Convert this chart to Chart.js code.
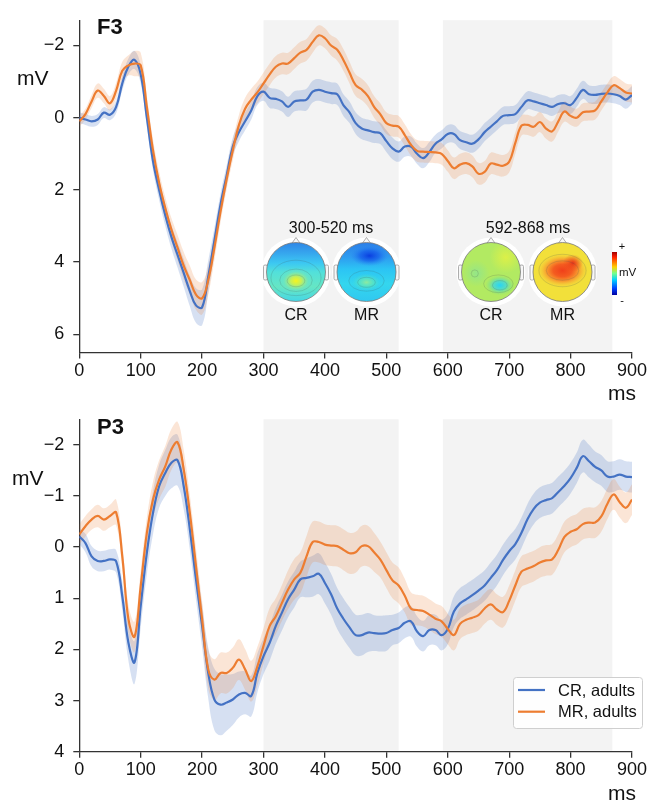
<!DOCTYPE html>
<html>
<head>
<meta charset="utf-8">
<script src="https://cdn.jsdelivr.net/npm/chart.js@4.4.0/dist/chart.umd.min.js"></script>
<style>
  html, body { margin: 0; padding: 0; background: #fff; }
  #wrap { position: relative; width: 648px; height: 803px; }
  canvas { position: absolute; left: 0; }
</style>
</head>
<body>
<div id="wrap">
  <canvas id="f3Chart" width="648" height="400" style="top:0;width:648px;height:400px"></canvas>
  <canvas id="p3Chart" width="648" height="403" style="top:400px;width:648px;height:403px"></canvas>
</div>
<script>
// time points (ms)
const times = [0,10,20,30,40,50,60,70,80,90,100,110,120,130,140,150,160,170,180,190,
  200,210,220,230,240,250,260,270,280,290,300,310,320,330,340,350,360,370,380,390,
  400,410,420,430,440,450,460,470,480,490,500,510,520,530,540,550,560,570,580,590,
  600,610,620,630,640,650,660,670,680,690,700,710,720,730,740,750,760,770,780,790,
  800,810,820,830,840,850,860,870,880,890,900];
const xTicks = [0, 100, 200, 300, 400, 500, 600, 700, 800, 900];
const yTicksF3 = [-2, 0, 2, 4, 6];
const yTicksP3 = [-2, -1, 0, 1, 2, 3, 4];
const windows = [[300, 520], [592, 868]];
const windowLabels = ['300-520 ms', '592-868 ms'];
const seriesNames = ['CR, adults', 'MR, adults'];
const mapLabels = ['CR', 'MR'];

// F3, mean amplitude (mV)
const f3CR = [0.0,0.05,0.1,0.05,-0.14,-0.08,-0.3,-0.95,-1.42,-1.6,
  -1.2,0.0,1.2,2.0,2.7,3.3,3.8,4.3,4.8,5.2,
  5.25,4.4,3.4,2.4,1.6,0.8,0.4,0.1,-0.2,-0.6,
  -0.72,-0.55,-0.52,-0.45,-0.3,-0.45,-0.48,-0.5,-0.72,-0.77,
  -0.72,-0.68,-0.65,-0.35,-0.15,0.15,0.3,0.35,0.4,0.43,
  0.65,0.85,0.94,0.8,0.8,1.0,1.12,0.95,0.72,0.6,
  0.45,0.45,0.62,0.68,0.72,0.6,0.4,0.25,0.1,-0.05,
  -0.07,-0.1,-0.3,-0.48,-0.45,-0.4,-0.35,-0.3,-0.38,-0.4,
  -0.35,-0.55,-0.77,-0.65,-0.63,-0.66,-0.67,-0.65,-0.6,-0.5,
  -0.63];
const f3MR = [0.1,-0.1,-0.45,-0.75,-0.6,-0.4,-0.75,-1.3,-1.45,-1.5,
  -1.45,-0.3,0.9,1.8,2.5,3.1,3.6,4.1,4.5,4.9,
  5.0,4.5,3.6,2.6,1.7,0.9,0.2,-0.25,-0.5,-0.7,
  -0.95,-1.2,-1.41,-1.5,-1.5,-1.65,-1.8,-1.88,-2.1,-2.28,
  -2.2,-2.0,-1.88,-1.6,-1.25,-0.9,-0.78,-0.6,-0.3,-0.1,
  0.15,0.22,0.25,0.48,0.75,0.92,0.94,0.95,0.96,1.0,
  1.2,1.4,1.3,1.26,1.35,1.55,1.5,1.27,1.3,1.33,
  1.22,0.7,0.22,0.2,0.25,0.12,0.3,0.38,0.1,-0.17,
  -0.05,0.0,-0.15,-0.17,-0.2,-0.45,-0.7,-0.9,-0.82,-0.7,
  -0.67];
// F3, standard error (half band width)
const f3CRse = [0.15,0.15,0.15,0.15,0.15,0.15,0.18,0.2,0.22,0.25,
  0.25,0.25,0.25,0.28,0.3,0.32,0.35,0.38,0.42,0.48,
  0.5,0.45,0.35,0.3,0.28,0.25,0.25,0.25,0.25,0.25,
  0.25,0.28,0.28,0.28,0.28,0.28,0.28,0.3,0.3,0.3,
  0.3,0.3,0.3,0.3,0.3,0.3,0.3,0.3,0.3,0.3,
  0.3,0.3,0.28,0.28,0.28,0.28,0.28,0.28,0.25,0.25,
  0.25,0.25,0.25,0.25,0.25,0.25,0.25,0.25,0.25,0.25,
  0.25,0.25,0.25,0.25,0.25,0.25,0.25,0.25,0.25,0.25,
  0.25,0.25,0.25,0.25,0.25,0.25,0.25,0.25,0.25,0.25,
  0.25];
const f3MRse = [0.15,0.15,0.18,0.2,0.2,0.2,0.22,0.25,0.28,0.35,
  0.35,0.3,0.3,0.3,0.3,0.32,0.35,0.38,0.4,0.42,
  0.45,0.4,0.35,0.3,0.28,0.28,0.28,0.3,0.3,0.3,
  0.3,0.3,0.3,0.3,0.3,0.3,0.3,0.3,0.3,0.28,
  0.28,0.28,0.3,0.3,0.3,0.3,0.3,0.3,0.3,0.3,
  0.3,0.3,0.3,0.3,0.3,0.3,0.3,0.3,0.3,0.3,
  0.3,0.3,0.3,0.3,0.3,0.3,0.3,0.3,0.3,0.3,
  0.3,0.3,0.28,0.28,0.28,0.28,0.28,0.28,0.28,0.28,
  0.25,0.25,0.25,0.25,0.25,0.25,0.25,0.25,0.25,0.25,
  0.25];

// P3, mean amplitude (mV)
const p3CR = [-0.21,-0.08,0.18,0.27,0.27,0.24,0.28,0.96,1.87,2.25,
  1.15,0.11,-0.67,-1.19,-1.45,-1.65,-1.7,-1.19,-0.35,0.63,
  1.54,2.46,2.98,3.08,3.04,2.98,2.88,2.85,2.91,2.46,
  2.13,1.87,1.54,1.28,1.02,0.83,0.63,0.6,0.57,0.52,
  0.7,0.92,1.2,1.4,1.57,1.72,1.72,1.67,1.68,1.69,
  1.68,1.62,1.58,1.48,1.45,1.65,1.74,1.62,1.62,1.72,
  1.6,1.26,1.1,1.02,0.94,0.85,0.75,0.6,0.45,0.25,
  0.08,-0.06,-0.28,-0.55,-0.75,-0.87,-0.92,-0.96,-1.08,-1.2,
  -1.35,-1.55,-1.78,-1.68,-1.57,-1.5,-1.38,-1.38,-1.42,-1.38,
  -1.37];
const p3MR = [-0.25,-0.41,-0.54,-0.61,-0.54,-0.61,-0.68,0.18,1.41,1.75,
  0.76,-0.28,-0.93,-1.32,-1.58,-1.91,-2.05,-1.52,-0.67,0.37,
  1.41,2.39,2.59,2.46,2.46,2.36,2.2,2.39,2.62,2.33,
  1.93,1.54,1.35,1.09,0.83,0.63,0.5,0.18,-0.1,-0.1,
  -0.05,-0.03,-0.02,0.05,0.12,0.1,-0.02,-0.02,0.1,0.24,
  0.45,0.65,0.75,0.95,1.2,1.23,1.25,1.32,1.4,1.45,
  1.6,1.72,1.5,1.42,1.38,1.33,1.2,1.12,1.22,1.27,
  1.05,0.75,0.48,0.42,0.37,0.3,0.26,0.24,0.05,-0.2,
  -0.3,-0.35,-0.45,-0.48,-0.48,-0.6,-0.85,-1.03,-0.88,-0.77,
  -0.93];
// P3, standard error (half band width)
const p3CRse = [0.15,0.18,0.2,0.2,0.2,0.2,0.22,0.28,0.35,0.42,
  0.42,0.42,0.42,0.42,0.45,0.5,0.5,0.45,0.4,0.4,
  0.42,0.5,0.6,0.6,0.55,0.5,0.45,0.42,0.4,0.38,
  0.35,0.35,0.35,0.35,0.35,0.35,0.35,0.38,0.4,0.4,
  0.4,0.4,0.4,0.4,0.4,0.4,0.4,0.38,0.35,0.35,
  0.35,0.3,0.3,0.3,0.3,0.3,0.3,0.3,0.3,0.3,
  0.3,0.3,0.3,0.3,0.3,0.3,0.3,0.3,0.3,0.3,
  0.3,0.3,0.3,0.3,0.3,0.3,0.3,0.3,0.3,0.3,
  0.3,0.3,0.32,0.32,0.3,0.3,0.3,0.3,0.3,0.3,
  0.3];
const p3MRse = [0.2,0.2,0.2,0.22,0.22,0.22,0.25,0.25,0.28,0.3,
  0.3,0.3,0.35,0.38,0.4,0.4,0.4,0.38,0.35,0.35,
  0.35,0.38,0.4,0.4,0.4,0.4,0.4,0.4,0.4,0.38,
  0.35,0.35,0.35,0.35,0.38,0.4,0.4,0.4,0.4,0.4,
  0.4,0.4,0.4,0.4,0.4,0.4,0.4,0.4,0.38,0.35,
  0.35,0.35,0.35,0.33,0.32,0.3,0.3,0.3,0.3,0.3,
  0.3,0.3,0.3,0.3,0.3,0.3,0.3,0.3,0.3,0.3,
  0.3,0.3,0.3,0.3,0.3,0.3,0.3,0.3,0.3,0.3,
  0.3,0.3,0.3,0.3,0.3,0.3,0.3,0.3,0.3,0.3,
  0.3];

const BLUE = '#4472c4';
const ORANGE = '#ed7d31';
const FONT = "'Liberation Sans', Arial, Helvetica, sans-serif";
const minus = v => String(v).replace('-', '\u2212');

function pts(mean, se, sign) {
  return times.map((t, i) => ({ x: t, y: mean[i] + (se ? sign * se[i] : 0) }));
}

function makeDatasets(cr, crSe, mr, mrSe) {
  const base = { pointRadius: 0, borderWidth: 0, borderColor: 'transparent', tension: 0.4, fill: false };
  return [
    { ...base, data: pts(cr, crSe, -1), order: 5 },
    { ...base, data: pts(cr, crSe, 1), fill: 0, backgroundColor: 'rgba(68,114,196,0.22)', order: 5 },
    { ...base, data: pts(mr, mrSe, -1), order: 4 },
    { ...base, data: pts(mr, mrSe, 1), fill: 2, backgroundColor: 'rgba(237,125,49,0.2)', order: 4 },
    { ...base, label: seriesNames[0], data: pts(cr), borderColor: BLUE, borderWidth: 2.2, order: 1 },
    { ...base, label: seriesNames[1], data: pts(mr), borderColor: ORANGE, borderWidth: 2.2, order: 0 }
  ];
}

// grey analysis windows behind the curves
const windowShade = {
  id: 'windowShade',
  beforeDraw(chart) {
    const { ctx, chartArea: a, scales: { x } } = chart;
    ctx.save();
    ctx.fillStyle = '#f3f3f3';
    windows.forEach(([s, e]) => {
      const x0 = x.getPixelForValue(s), x1 = x.getPixelForValue(e);
      ctx.fillRect(x0, a.top, x1 - x0, a.bottom - a.top - 1);
    });
    ctx.restore();
  }
};

// panel name, axis units
function panelText(name) {
  return {
    id: 'panelText',
    afterDraw(chart) {
      const ctx = chart.ctx;
      ctx.save();
      ctx.fillStyle = '#111';
      ctx.textBaseline = 'alphabetic';
      ctx.font = 'bold 22px ' + FONT;
      ctx.textAlign = 'left';
      ctx.fillText(name, 97, 34);
      ctx.font = '21px ' + FONT;
      ctx.fillText('mV', name === 'F3' ? 17 : 12, 85);
      ctx.textAlign = 'right';
      ctx.fillText('ms', 636, 400);
      ctx.restore();
    }
  };
}

function spot(ctx, x, y, rx, ry, stops) {
  ctx.save();
  ctx.translate(x, y);
  ctx.scale(1, ry / rx);
  const g = ctx.createRadialGradient(0, 0, 0, 0, 0, rx);
  stops.forEach(([o, c]) => g.addColorStop(o, c));
  ctx.fillStyle = g;
  ctx.fillRect(-rx, -rx, 2 * rx, 2 * rx);
  ctx.restore();
}

function vband(ctx, cx, cy, r, stops) {
  const g = ctx.createLinearGradient(0, cy - r, 0, cy + r);
  stops.forEach(([o, c]) => g.addColorStop(o, c));
  ctx.fillStyle = g;
  ctx.fillRect(cx - r, cy - r, 2 * r, 2 * r);
}

function contour(ctx, x, y, rx, ry) {
  ctx.save();
  ctx.strokeStyle = 'rgba(70,90,90,0.28)';
  ctx.lineWidth = 0.7;
  ctx.beginPath();
  ctx.ellipse(x, y, rx, ry, 0, 0, Math.PI * 2);
  ctx.stroke();
  ctx.restore();
}

const headPaint = [
  (ctx, cx, cy, r) => { // CR 300-520
    vband(ctx, cx, cy, r, [[0, '#2f86e6'], [0.18, '#36a6ee'], [0.35, '#3cc8f2'], [0.5, '#52e0da'], [0.75, '#66e6c4'], [1, '#44d6e6']]);
    spot(ctx, cx, cy + 0.3 * r, 0.6 * r, 0.45 * r, [[0, '#f6f41e'], [0.3, '#c6f058'], [0.7, 'rgba(110,230,190,0.6)'], [1, 'rgba(110,230,190,0)']]);
    contour(ctx, cx, cy + 0.3 * r, 0.3 * r, 0.2 * r);
    contour(ctx, cx, cy + 0.28 * r, 0.55 * r, 0.38 * r);
    contour(ctx, cx, cy + 0.2 * r, 0.85 * r, 0.6 * r);
  },
  (ctx, cx, cy, r) => { // MR 300-520
    vband(ctx, cx, cy, r, [[0, '#2c7ee8'], [0.25, '#2e9cf0'], [0.45, '#2cc4f4'], [0.7, '#34d6ee'], [1, '#30c8f0']]);
    spot(ctx, cx + 0.1 * r, cy - 0.55 * r, 0.65 * r, 0.35 * r, [[0, '#0a3ee0'], [0.5, 'rgba(20,90,235,0.7)'], [1, 'rgba(40,130,240,0)']]);
    spot(ctx, cx, cy + 0.35 * r, 0.5 * r, 0.3 * r, [[0, '#8eeaa0'], [0.5, 'rgba(90,230,190,0.7)'], [1, 'rgba(60,215,220,0)']]);
    contour(ctx, cx, cy + 0.35 * r, 0.3 * r, 0.17 * r);
    contour(ctx, cx, cy + 0.3 * r, 0.6 * r, 0.35 * r);
  },
  (ctx, cx, cy, r) => { // CR 592-868
    ctx.fillStyle = '#b2ea62';
    ctx.fillRect(cx - r, cy - r, 2 * r, 2 * r);
    spot(ctx, cx + 0.5 * r, cy - 0.5 * r, 0.55 * r, 0.55 * r, [[0, '#dcf048'], [1, 'rgba(220,240,72,0)']]);
    spot(ctx, cx - 0.5 * r, cy + 0.05 * r, 0.45 * r, 0.45 * r, [[0, '#94e688'], [1, 'rgba(148,230,136,0)']]);
    spot(ctx, cx + 0.3 * r, cy + 0.45 * r, 0.5 * r, 0.34 * r, [[0, '#28d4f4'], [0.45, '#5adcc0'], [1, 'rgba(140,230,110,0)']]);
    contour(ctx, cx + 0.3 * r, cy + 0.45 * r, 0.25 * r, 0.16 * r);
    contour(ctx, cx + 0.25 * r, cy + 0.4 * r, 0.5 * r, 0.3 * r);
    contour(ctx, cx - 0.55 * r, cy + 0.05 * r, 0.12 * r, 0.12 * r);
  },
  (ctx, cx, cy, r) => { // MR 592-868
    ctx.fillStyle = '#f2e03a';
    ctx.fillRect(cx - r, cy - r, 2 * r, 2 * r);
    spot(ctx, cx, cy - 0.05 * r, 0.9 * r, 0.6 * r, [[0, '#f0401a'], [0.35, '#f45c20'], [0.62, '#f8a030'], [1, 'rgba(242,224,58,0)']]);
    spot(ctx, cx + 0.35 * r, cy - 0.3 * r, 0.35 * r, 0.3 * r, [[0, '#e83418'], [1, 'rgba(240,70,26,0)']]);
    contour(ctx, cx, cy - 0.05 * r, 0.55 * r, 0.33 * r);
    contour(ctx, cx, cy - 0.05 * r, 0.8 * r, 0.55 * r);
  }
];

function drawHead(ctx, cx, cy, r, paint) {
  ctx.save();
  ctx.fillStyle = '#ffffff';
  ctx.beginPath();
  ctx.arc(cx, cy, r + 5, 0, Math.PI * 2);
  ctx.fill();
  ctx.fillStyle = '#f7f7f7';
  ctx.strokeStyle = '#999';
  ctx.lineWidth = 0.8;
  [-1, 1].forEach(side => {
    const ex = side < 0 ? cx - r - 3 : cx + r - 1;
    ctx.beginPath();
    ctx.roundRect(ex, cy - 7, 4, 15, 1.5);
    ctx.fill();
    ctx.stroke();
  });
  ctx.beginPath();
  ctx.moveTo(cx - 5, cy - r + 2);
  ctx.lineTo(cx, cy - r - 5);
  ctx.lineTo(cx + 5, cy - r + 2);
  ctx.closePath();
  ctx.fill();
  ctx.stroke();
  ctx.save();
  ctx.beginPath();
  ctx.arc(cx, cy, r, 0, Math.PI * 2);
  ctx.clip();
  paint(ctx, cx, cy, r);
  ctx.restore();
  ctx.beginPath();
  ctx.arc(cx, cy, r, 0, Math.PI * 2);
  ctx.strokeStyle = '#777';
  ctx.lineWidth = 0.8;
  ctx.stroke();
  ctx.restore();
}

// scalp maps and colour bar inside the F3 panel
const topoMaps = {
  id: 'topoMaps',
  afterDatasetsDraw(chart) {
    const ctx = chart.ctx;
    const centers = [[296, 366.5], [491, 562.5]];
    const titleX = [331, 528];
    const cy = 272, r = 29.5;
    ctx.save();
    centers.forEach((pair, w) => {
      pair.forEach((cx, k) => drawHead(ctx, cx, cy, r, headPaint[w * 2 + k]));
      ctx.fillStyle = '#111';
      ctx.textAlign = 'center';
      ctx.textBaseline = 'alphabetic';
      ctx.font = '16px ' + FONT;
      ctx.fillText(windowLabels[w], titleX[w], 233);
      pair.forEach((cx, k) => ctx.fillText(mapLabels[k], cx, 320));
    });
    const g = ctx.createLinearGradient(0, 252, 0, 295);
    [[0, '#a00000'], [0.12, '#ff2000'], [0.35, '#ffd000'], [0.5, '#70ff90'], [0.65, '#00d0ff'], [0.85, '#0040ff'], [1, '#0000a0']]
      .forEach(([o, c]) => g.addColorStop(o, c));
    ctx.fillStyle = g;
    ctx.fillRect(612, 252, 5, 43);
    ctx.fillStyle = '#111';
    ctx.textBaseline = 'middle';
    ctx.font = '11px ' + FONT;
    ctx.textAlign = 'center';
    ctx.fillText('+', 622, 247);
    ctx.fillText('-', 622, 301);
    ctx.textAlign = 'left';
    ctx.font = '11.5px ' + FONT;
    ctx.fillText('mV', 619, 273);
    ctx.restore();
  }
};

// legend box in the P3 panel
const legendBox = {
  id: 'legendBox',
  afterDraw(chart) {
    const ctx = chart.ctx;
    ctx.save();
    ctx.fillStyle = 'rgba(255,255,255,0.85)';
    ctx.strokeStyle = '#cfcfcf';
    ctx.lineWidth = 1;
    ctx.beginPath();
    ctx.roundRect(513.5, 277.5, 129, 51, 3);
    ctx.fill();
    ctx.stroke();
    [BLUE, ORANGE].forEach((c, i) => {
      const y = 290 + i * 21.7;
      ctx.strokeStyle = c;
      ctx.lineWidth = 2.2;
      ctx.beginPath();
      ctx.moveTo(518, y);
      ctx.lineTo(545, y);
      ctx.stroke();
      ctx.fillStyle = '#111';
      ctx.font = '16.5px ' + FONT;
      ctx.textAlign = 'left';
      ctx.textBaseline = 'middle';
      ctx.fillText(seriesNames[i], 558, y + 1);
    });
    ctx.restore();
  }
};

function makeOptions(cfg) {
  const axisLine = { display: true, color: '#333', width: 1.3 };
  const tickGrid = { drawOnChartArea: false, drawTicks: true, tickLength: 6, color: '#333', lineWidth: 1.3 };
  return {
    responsive: false,
    animation: false,
    events: [],
    layout: { padding: { left: 0, right: 16, top: cfg.top, bottom: 0 } },
    plugins: { legend: { display: false }, tooltip: { enabled: false } },
    scales: {
      x: {
        type: 'linear', min: 0, max: 900,
        afterBuildTicks: s => { s.ticks = xTicks.map(v => ({ value: v })); },
        afterFit: s => { s.height = cfg.xh; s.paddingLeft = 0; s.paddingRight = 0; },
        border: axisLine,
        grid: tickGrid,
        ticks: { color: '#111', font: { family: FONT, size: 18 }, padding: 2, maxRotation: 0, autoSkip: false }
      },
      y: {
        type: 'linear', reverse: true, min: cfg.ymin, max: cfg.ymax,
        afterBuildTicks: s => { s.ticks = cfg.yTicks.map(v => ({ value: v })); },
        afterFit: s => { s.width = 79.3; s.paddingTop = 0; s.paddingBottom = 0; },
        border: axisLine,
        grid: tickGrid,
        ticks: { color: '#111', font: { family: FONT, size: 18 }, padding: 9, autoSkip: false, callback: v => minus(v) }
      }
    }
  };
}

new Chart(document.getElementById('f3Chart').getContext('2d'), {
  type: 'line',
  data: { datasets: makeDatasets(f3CR, f3CRse, f3MR, f3MRse) },
  options: makeOptions({ top: 20.2, xh: 47.6, ymin: -2.7, ymax: 6.5, yTicks: yTicksF3 }),
  plugins: [windowShade, topoMaps, panelText('F3')]
});

new Chart(document.getElementById('p3Chart').getContext('2d'), {
  type: 'line',
  data: { datasets: makeDatasets(p3CR, p3CRse, p3MR, p3MRse) },
  options: makeOptions({ top: 19.3, xh: 51.3, ymin: -2.5, ymax: 4, yTicks: yTicksP3 }),
  plugins: [windowShade, legendBox, panelText('P3')]
});
</script>
</body>
</html>
